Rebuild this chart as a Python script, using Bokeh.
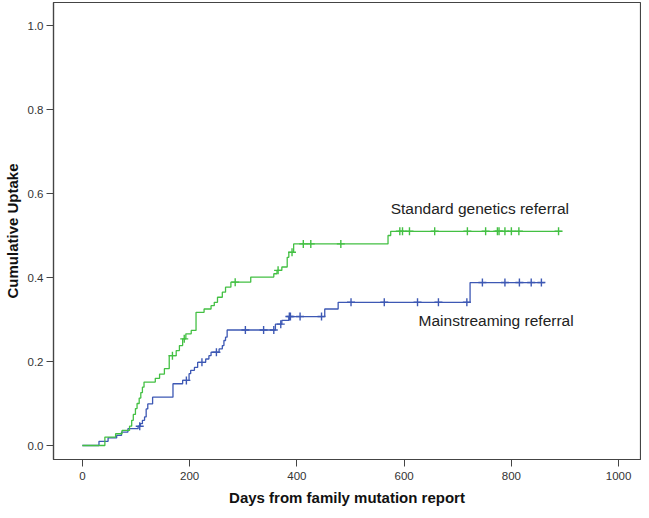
import numpy as np
from bokeh.plotting import figure
from bokeh.models import Range1d, FixedTicker, NumeralTickFormatter, Label
from bokeh.embed import file_html
from bokeh.resources import INLINE

# ---- data ----
std_days = [0, 42, 62, 74, 88, 92, 95, 99, 102, 106, 109, 112, 115, 136, 144, 153, 162,
            175, 181, 187, 193, 203, 212, 227, 240, 246, 252, 261, 267, 277, 314, 357,
            363, 372, 382, 385, 394, 570, 575]
std_vals = [0.0, 0.02, 0.028, 0.036, 0.046, 0.06, 0.074, 0.088, 0.10, 0.113, 0.126, 0.139,
            0.151, 0.16, 0.17, 0.183, 0.214, 0.226, 0.238, 0.254, 0.266, 0.274, 0.317,
            0.325, 0.333, 0.341, 0.353, 0.365, 0.377, 0.389, 0.401, 0.409, 0.417, 0.425,
            0.448, 0.46, 0.48, 0.50, 0.51]
std_end = 894
std_censor = [168, 190, 285, 365, 391, 412, 426, 482, 592, 597, 610, 657, 718, 752,
              774, 777, 788, 800, 814, 888]

main_days = [0, 31, 48, 64, 73, 85, 104, 108, 112, 116, 119, 122, 131, 169, 187, 199, 202,
             209, 215, 230, 236, 240, 255, 261, 264, 267, 270, 360, 372, 385, 452, 477, 723]
main_vals = [0.0, 0.01, 0.018, 0.024, 0.032, 0.04, 0.046, 0.052, 0.06, 0.068, 0.087, 0.099,
             0.115, 0.147, 0.155, 0.171, 0.179, 0.186, 0.198, 0.206, 0.214, 0.222, 0.23,
             0.238, 0.25, 0.258, 0.275, 0.289, 0.298, 0.307, 0.325, 0.341, 0.388]
main_end = 862
main_censor = [107, 194, 223, 250, 304, 338, 357, 370, 386, 388, 406, 446, 501, 563,
               625, 664, 717, 746, 788, 815, 837, 856]

x_ticks = [0, 200, 400, 600, 800, 1000]
y_ticks = [0.0, 0.2, 0.4, 0.6, 0.8, 1.0]
x_title = "Days from family mutation report"
y_title = "Cumulative Uptake"
std_name = "Standard genetics referral"
main_name = "Mainstreaming referral"

GREEN = "#43c043"
BLUE = "#3d58b4"


def censor_points(days, vals, cens):
    d = np.asarray(days, dtype=float)
    v = np.asarray(vals, dtype=float)
    idx = np.searchsorted(d, np.asarray(cens, dtype=float), side="right") - 1
    return list(cens), list(v[idx])


p = figure(width=641, height=510, output_backend="svg", toolbar_location=None,
           x_range=Range1d(-53.8, 1040.8), y_range=Range1d(-0.0333, 1.0548),
           min_border_left=50, min_border_right=1, min_border_top=2, min_border_bottom=51,
           background_fill_color="white", border_fill_color="white")

p.xgrid.visible = False
p.ygrid.visible = False
p.outline_line_color = "#444444"
p.outline_line_width = 1.2

for ax in (p.xaxis[0], p.yaxis[0]):
    ax.axis_line_color = "#444444"
    ax.axis_line_width = 1.2
    ax.major_tick_line_color = "#444444"
    ax.major_tick_out = 7
    ax.major_tick_in = 0
    ax.minor_tick_line_color = None
    ax.major_label_text_font = "Liberation Sans"
    ax.major_label_text_font_size = "11.5px"
    ax.major_label_text_color = "#333333"
    ax.axis_label_text_font = "Liberation Sans"
    ax.axis_label_text_font_size = "15px"
    ax.axis_label_text_font_style = "bold"
    ax.axis_label_text_color = "#111111"

p.xaxis[0].ticker = FixedTicker(ticks=x_ticks)
p.yaxis[0].ticker = FixedTicker(ticks=y_ticks)
p.yaxis[0].formatter = NumeralTickFormatter(format="0.0")
p.xaxis[0].axis_label = x_title
p.yaxis[0].axis_label = y_title
p.xaxis[0].major_label_standoff = 5
p.xaxis[0].axis_label_standoff = 6
p.yaxis[0].major_label_standoff = 3
p.yaxis[0].axis_label_standoff = 4

for days, vals, end, cens, col in ((main_days, main_vals, main_end, main_censor, BLUE),
                                   (std_days, std_vals, std_end, std_censor, GREEN)):
    xs = list(days) + [end]
    ys = list(vals) + [vals[-1]]
    p.step(xs, ys, mode="after", line_color=col, line_width=1.3)
    cx, cy = censor_points(days, vals, cens)
    p.scatter(cx, cy, marker="cross", size=8, line_color=col, line_width=1.4)

p.add_layout(Label(x=575, y=0.564, text=std_name, text_font="Liberation Sans",
                   text_font_size="15.5px", text_color="#222222",
                   text_baseline="middle", text_align="left"))
p.add_layout(Label(x=627, y=0.298, text=main_name, text_font="Liberation Sans",
                   text_font_size="15.5px", text_color="#222222",
                   text_baseline="middle", text_align="left"))

open("out.html", "w").write(file_html(p, INLINE))
